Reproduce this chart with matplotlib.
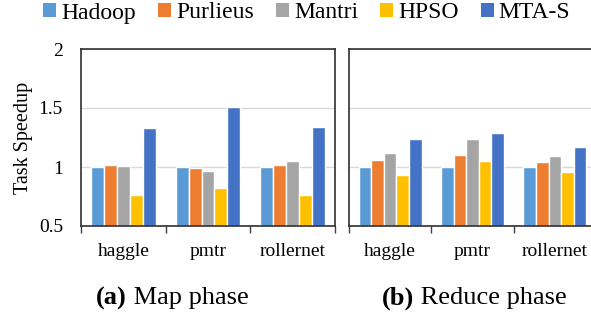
import numpy as np
import matplotlib
matplotlib.use("Agg")
import matplotlib.pyplot as plt
from matplotlib.patches import Patch

plt.rcParams['font.family'] = ['Liberation Serif', 'DejaVu Serif']

datasets = ["haggle", "pmtr", "rollernet"]
methods = ["Hadoop", "Purlieus", "Mantri", "HPSO", "MTA-S"]
colors = ["#5B9BD5", "#ED7D31", "#A5A5A5", "#FFC000", "#4472C4"]

# task speedup, rows = methods, cols = datasets
map_phase = [
    [1.00, 1.00, 1.00],
    [1.02, 0.99, 1.02],
    [1.01, 0.97, 1.05],
    [0.76, 0.82, 0.76],
    [1.33, 1.51, 1.34],
]
reduce_phase = [
    [1.00, 1.00, 1.00],
    [1.06, 1.10, 1.04],
    [1.12, 1.24, 1.09],
    [0.93, 1.05, 0.96],
    [1.24, 1.29, 1.17],
]

W, H = 591, 318
fig = plt.figure(figsize=(W / 100, H / 100), dpi=100)
ax1 = fig.add_axes([81 / W, 92 / H, 254 / W, 177 / H])
ax2 = fig.add_axes([349 / W, 92 / H, 247 / W, 177 / H])

x = np.arange(len(datasets))
pitch = 0.153
for ax, data in [(ax1, map_phase), (ax2, reduce_phase)]:
    for i, (vals, c) in enumerate(zip(data, colors)):
        ax.bar(x + (i - 2) * pitch, np.array(vals) - 0.5, bottom=0.5, width=pitch,
               color=c, edgecolor="white", linewidth=1.0, zorder=3)
    ax.set_ylim(0.5, 2)
    ax.set_xlim(-0.5, 2.5)
    ax.set_yticks([0.5, 1, 1.5, 2])
    ax.yaxis.grid(True, color="#D9D9D9", linewidth=1.0, zorder=0)
    ax.set_xticks(x)
    ax.set_xticklabels(datasets, fontsize=14)
    ax.tick_params(axis="x", which="major", length=0, pad=12)
    ax.set_xticks([-0.5, 0.5, 1.5, 2.5], minor=True)
    ax.tick_params(axis="x", which="minor", length=5, width=1.0, color="#404040")
    ax.tick_params(axis="y", length=0)
    for s in ax.spines.values():
        s.set_color("#303030")
        s.set_linewidth(1.2)
        s.set_zorder(5)

ax1.set_yticklabels(["0.5", "1", "1.5", "2"], fontsize=14)
ax1.tick_params(axis="y", pad=13)
ax2.set_yticklabels([])
ax1.set_ylabel("Task Speedup", fontsize=14.5, labelpad=4)

handles = [Patch(facecolor=c, edgecolor="none") for c in colors]
fig.legend(handles, methods, loc="center", bbox_to_anchor=(0.519, 1 - 13 / H), ncol=5,
           frameon=False, fontsize=17, handlelength=0.55, handleheight=0.55,
           handletextpad=0.22, columnspacing=0.93, borderpad=0, borderaxespad=0)


def caption(xc, tag, rest):
    bold = fig.text(0, 1 - 298 / H, tag, fontsize=19, fontweight="bold", va="center")
    norm = fig.text(0, 1 - 298 / H, rest, fontsize=19, va="center")
    fig.canvas.draw()
    r = fig.canvas.get_renderer()
    wb = bold.get_window_extent(r).width
    wn = norm.get_window_extent(r).width
    x0 = xc - (wb + wn) / 2
    bold.set_x(x0 / W)
    norm.set_x((x0 + wb) / W)


caption(172, "(a)", " Map phase")
caption(474, "(b)", " Reduce phase")

fig.savefig("out.png", dpi=100)
